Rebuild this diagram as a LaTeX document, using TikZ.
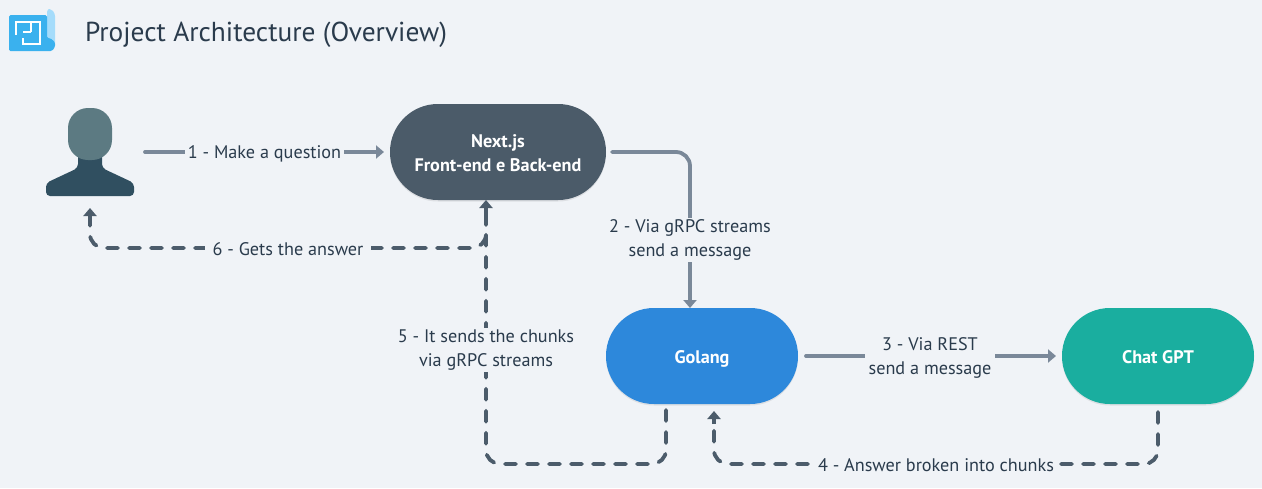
\documentclass[tikz,border=0pt]{standalone}
\usepackage{fontspec}
\setmainfont{PT Sans}
\usetikzlibrary{arrows.meta,shadows}
\definecolor{pagebg}{HTML}{F0F3F7}
\definecolor{inktext}{HTML}{2A3B4C}
\definecolor{solidline}{HTML}{7A8899}
\definecolor{dashline}{HTML}{4C5C6B}
\definecolor{slatebox}{HTML}{4B5B69}
\definecolor{bluebox}{HTML}{2D88DB}
\definecolor{tealbox}{HTML}{1AAE9F}
\definecolor{headcol}{HTML}{5C7A82}
\definecolor{bodycol}{HTML}{304F60}
\definecolor{iconblue}{HTML}{3AB1EE}
\definecolor{iconlight}{HTML}{A5DCFB}
\begin{document}
\begin{tikzpicture}[x=1pt,y=-1pt,inner sep=0pt,outer sep=0pt,
sysblock/.style={rectangle,rounded corners=47.9pt,minimum width=#1,minimum height=96pt,text=white,align=center,font=\fontsize{18.2}{24}\selectfont\bfseries,drop shadow={shadow xshift=0pt,shadow yshift=-1.5pt,opacity=.08,fill=black}},
steplabel/.style={fill=pagebg,text=inktext,align=center,font=\fontsize{18.2}{24}\selectfont},
solidflow/.style={draw=solidline,line width=3.8pt,line cap=round,-{Triangle[length=8pt,width=13pt]}},
dashflow/.style={draw=dashline,line width=3.8pt,line cap=round,dash pattern=on 11pt off 11pt,rounded corners=14pt},
dashtip/.style={draw=dashline,line width=3.8pt,-{Triangle[length=8pt,width=13pt]}}]
\useasboundingbox (0,0) rectangle (1262,488);
\fill[pagebg] (0,0) rectangle (1262,488);
% title and icon
\fill[iconlight,rounded corners=3pt] (47,9) -- (51,9) -- (55,13) -- (55,46) -- (47,46) -- cycle;
\fill[iconblue,rounded corners=1.5pt] (9,15) -- (47,15) -- (47,38) -- (50,38) -- (55,42) -- (55,47) -- (52,51) -- (9,51) -- cycle;
\draw[white,line width=1.3pt] (31,32) -- (31,22) -- (16,22) -- (16,35);
\draw[white,line width=1.3pt] (23,32) -- (31,32);
\draw[white,line width=1.3pt] (31,22) -- (40,22) -- (40,44) -- (23,44) -- (23,38);
\node[anchor=west,text=inktext,font=\fontsize{27.4}{30}\selectfont] (title) at (85,35) {Project Architecture (Overview)};
% person
\node[minimum width=88pt,minimum height=88pt] (user) at (90,152) {};
\fill[bodycol,rounded corners=4pt] (46,196) -- (46,183) -- (78,168) -- (78,150) -- (102,150) -- (102,168) -- (134,183) -- (134,196) -- cycle;
\fill[headcol,rounded corners=20pt] (68,108) rectangle (112,160);
% blocks
\node[sysblock=216pt,fill=slatebox] (next) at (498,152) {\rule{0pt}{15pt}Next.js\\Front-end e Back-end};
\node[sysblock=192pt,fill=bluebox,text height=14pt,text depth=0pt] (golang) at (702,356) {Golang};
\node[sysblock=192pt,fill=tealbox,text height=14pt,text depth=0pt] (chat) at (1158,356) {Chat GPT};
\coordinate (nextin) at (486,200);
\coordinate (golangin) at (690,308);
\coordinate (golangout) at (666,404);
\coordinate (golangback) at (714,404);
% connectors
\draw[solidflow,shorten <=11pt,shorten >=6pt] (user.east) -- (next.west);
\draw[solidflow,rounded corners=14pt,shorten <=6pt] (next.east) -| (golangin);
\draw[solidflow,shorten <=8pt,shorten >=6pt] (golang.east) -- (chat.west);
\draw[dashflow,shorten <=8pt] (chat.south) -- ++(0,60) -| ([yshift=-22pt]golangback);
\draw[dashtip] ([yshift=-20pt]golangback) -- ([yshift=-7pt]golangback);
\draw[dashflow,shorten <=6pt] (golangout) -- ++(0,60) -| ([yshift=-14pt]nextin);
\draw[dashtip] ([yshift=-14pt]nextin) -- (nextin);
\draw[dashflow,shorten <=14pt] (nextin) -- ++(0,48) -| ([yshift=-22pt]user.south);
\draw[dashtip] ([yshift=-24pt]user.south) -- ([yshift=-12pt]user.south);
% labels
\node[steplabel,inner xsep=3pt] (step1) at (264.5,153.5) {1 - Make a question};
\node[steplabel,inner ysep=2pt] (step2) at (690,240) {2 - Via gRPC streams\\send a message};
\node[steplabel,inner xsep=4pt,inner ysep=2pt] (step3) at (930,358) {3 - Via REST\\send a message};
\node[steplabel,inner xsep=3pt] (step4) at (936,465.5) {4 - Answer broken into chunks};
\node[steplabel,inner ysep=2pt] (step5) at (486,350) {5 - It sends the chunks\\via gRPC streams};
\node[steplabel,inner xsep=8pt] (step6) at (288,249.5) {6 - Gets the answer};
\end{tikzpicture}
\end{document}
